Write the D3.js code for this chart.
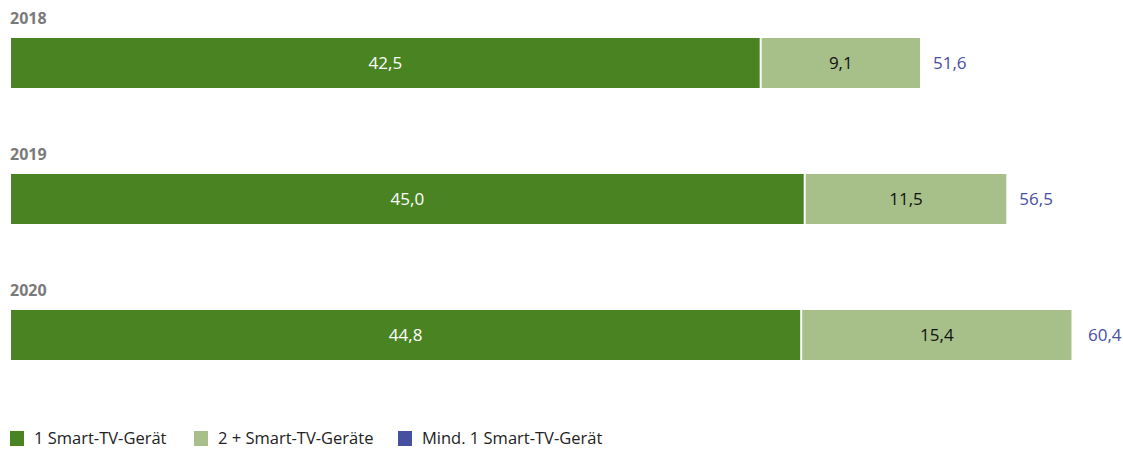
<!DOCTYPE html>
<html>
<head>
<meta charset="utf-8">
<script src="https://cdn.jsdelivr.net/npm/d3@7"></script>
<style>
  body { margin: 0; background: #fff; }
  text { font-family: "Open Sans", "Noto Sans", sans-serif; }
</style>
</head>
<body>
<svg width="1123" height="449"></svg>
<script>
// data
var years = ["2018", "2019", "2020"]
var onlyOne = [42.5, 45.0, 44.8]
var twoPlus = [9.1, 11.5, 15.4]
var atLeastOne = [51.6, 56.5, 60.4]
var seriesNames = ["1 Smart-TV-Gerät", "2 + Smart-TV-Geräte", "Mind. 1 Smart-TV-Gerät"]
var colors = ["#4a8422", "#a7bf89", "#46509f"]

var fmt = v => d3.format(".1f")(v).replace(".", ",")

var svg = d3.select("svg")
var x = d3.scaleLinear().domain([0, 60.4]).range([11, 1075])
var y = d3.scaleBand().domain(years).range([38, 446])
var barH = 50
var rows = years.map((yr, i) => ({year: yr, a: onlyOne[i], b: twoPlus[i], t: atLeastOne[i]}))

var g = svg.selectAll("g.row").data(rows).enter().append("g")
  .attr("class", "row")
  .attr("transform", d => "translate(0," + y(d.year) + ")")

g.append("text")
  .attr("x", 10).attr("y", -14)
  .style("font-size", "16px").style("font-weight", "bold").style("fill", "#7a7a7a")
  .text(d => d.year)

g.append("rect")
  .attr("x", x(0)).attr("y", 0)
  .attr("width", d => x(d.a) - x(0)).attr("height", barH)
  .style("fill", colors[0])

g.append("rect")
  .attr("x", d => x(d.a) + 2).attr("y", 0)
  .attr("width", d => x(d.a + d.b) - x(d.a) - 2).attr("height", barH)
  .style("fill", colors[1])

g.append("text")
  .attr("x", d => (x(0) + x(d.a)) / 2).attr("y", barH / 2 + 6)
  .attr("text-anchor", "middle")
  .style("font-size", "17px").style("fill", "#fff")
  .text(d => fmt(d.a))

g.append("text")
  .attr("x", d => (x(d.a) + x(d.a + d.b)) / 2 + 1).attr("y", barH / 2 + 6)
  .attr("text-anchor", "middle")
  .style("font-size", "17px").style("fill", "#111")
  .text(d => fmt(d.b))

g.append("text")
  .attr("x", d => x(d.t) + 13).attr("y", barH / 2 + 6)
  .style("font-size", "17px").style("fill", colors[2])
  .text(d => fmt(d.t))

// legend
var legX = [10, 194, 398]
var leg = svg.selectAll("g.leg").data(seriesNames).enter().append("g")
  .attr("class", "leg")
  .attr("transform", (d, i) => "translate(" + legX[i] + ",431)")
leg.append("rect").attr("width", 14).attr("height", 15).style("fill", (d, i) => colors[i])
leg.append("text").attr("x", 24).attr("y", 13)
  .style("font-size", "16.5px").style("fill", "#222")
  .text(d => d)
</script>
</body>
</html>
